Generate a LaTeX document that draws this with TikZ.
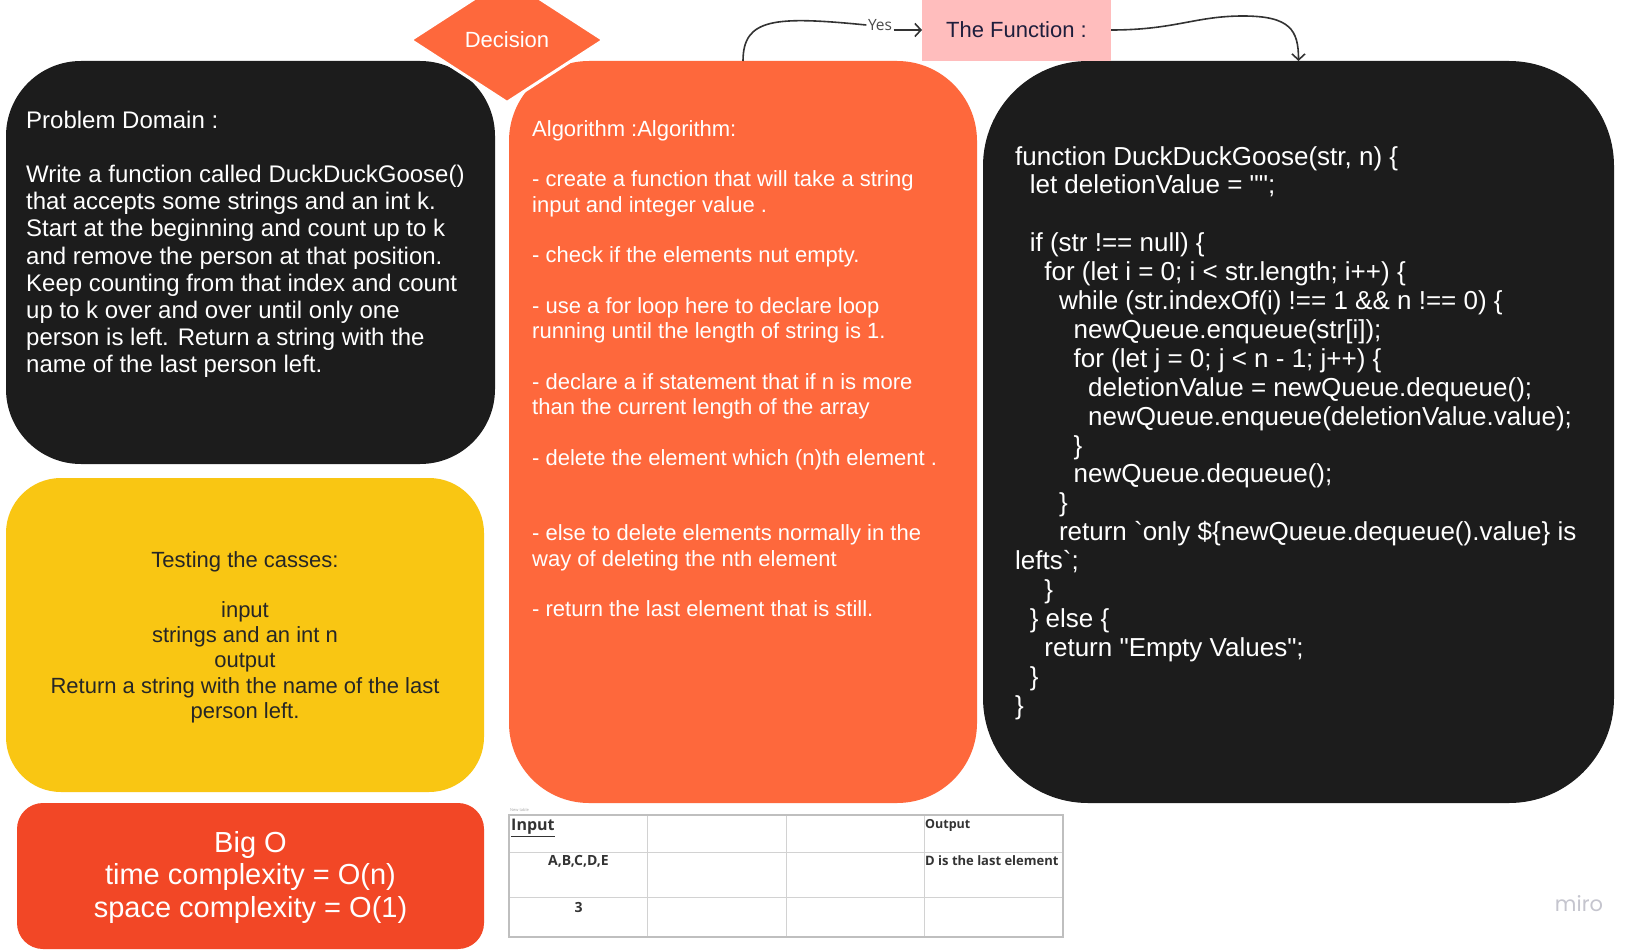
\documentclass[tikz,border=0pt]{standalone}
\usepackage{fontspec}
\setmainfont{Liberation Sans}
\newfontfamily\tablefont{Open Sans}
\newfontfamily\logofont{Poppins}
\usetikzlibrary{shapes.geometric,arrows.meta,positioning}

\definecolor{cardblack}{HTML}{1C1C1C}
\definecolor{cardorange}{HTML}{FE683C}
\definecolor{cardyellow}{HTML}{F9C613}
\definecolor{cardred}{HTML}{F24726}
\definecolor{cardpink}{HTML}{FFBDBD}
\definecolor{inkdark}{HTML}{1E1E3C}
\definecolor{linkgray}{HTML}{333333}
\definecolor{gridgray}{HTML}{D2D2D2}
\definecolor{logogray}{HTML}{C5C5CE}

\newlength\codeindent
\setlength\codeindent{14.6pt}
\newcommand\ind[1]{\hspace*{#1\codeindent}}

\tikzset{
  card/.style={rectangle, inner sep=0pt, outer sep=0pt},
  cardtext/.style={inner sep=0pt, anchor=north west, align=left, text=white},
  link/.style={draw=linkgray, line width=1.6pt},
  linkarrow/.style={link, -{Straight Barb[length=6pt,width=13pt]}},
  cell/.style={inner sep=0pt, text=black!80, font={\tablefont\bfseries\fontsize{12.5}{15}\selectfont}},
}

\begin{document}
\begin{tikzpicture}[x=1pt, y=-1pt]
  \useasboundingbox[fill=white] (0,0) rectangle (1643,950);
  % Problem domain card
  \node[card, fill=cardblack, rounded corners=75pt, minimum width=489pt, minimum height=403pt] (pd) at (250.5,262.5) {};
  \node[cardtext, font={\fontsize{24}{27.1}\selectfont}] (pdtext) at (26,111) {Problem Domain :\\[27.1pt]
Write a function called DuckDuckGoose()\\
that accepts some strings and an int k.\\
Start at the beginning and count up to k\\
and remove the person at that position.\\
Keep counting from that index and count\\
up to k over and over until only one\\
person is left. Return a string with the\\
name of the last person left.};
  % Testing card
  \node[card, fill=cardyellow, rounded corners=55pt, minimum width=478pt, minimum height=314pt] (test) at (245,635) {};
  \node[inner sep=0pt, anchor=north, align=center, text=black!85, font={\fontsize{22}{25.2}\selectfont}] (testtext) at (245,551) {Testing the casses:\\[25.2pt]
input\\
strings and an int n\\
output\\
Return a string with the name of the last\\
person left.};
  % Big O card
  \node[card, fill=cardred, rounded corners=26pt, minimum width=467pt, minimum height=146pt] (bigo) at (250.5,876) {};
  \node[inner sep=0pt, anchor=north, align=center, text=white, font={\fontsize{29}{32.5}\selectfont}] (bigotext) at (250.5,831) {Big O\\
time complexity = O(n)\\
space complexity = O(1)};
  % Algorithm card
  \node[card, fill=cardorange, rounded corners=80pt, minimum width=468pt, minimum height=742pt] (algo) at (743,432) {};
  \node[cardtext, font={\fontsize{22}{25.3}\selectfont}] (algotext) at (532,120) {Algorithm :Algorithm:\\[25.3pt]
- create a function that will take a string\\
input and integer value .\\[25.3pt]
- check if the elements nut empty.\\[25.3pt]
- use a for loop here to declare loop\\
running until the length of string is 1.\\[25.3pt]
- declare a if statement that if n is more\\
than the current length of the array\\[25.3pt]
- delete the element which (n)th element .\\[50.6pt]
- else to delete elements normally in the\\
way of deleting the nth element\\[25.3pt]
- return the last element that is still.};
  % Code card
  \node[card, fill=cardblack, rounded corners=105pt, minimum width=631pt, minimum height=742pt] (code) at (1298.5,432) {};
  \node[cardtext, font={\fontsize{26}{28.9}\selectfont}] (codetext) at (1015,146) {function DuckDuckGoose(str, n) \{\\
\ind{1}let deletionValue = \textquotedbl\textquotedbl;\\[28.9pt]
\ind{1}if (str !== null) \{\\
\ind{2}for (let i = 0; i < str.length; i++) \{\\
\ind{3}while (str.indexOf(i) !== 1 \&\& n !== 0) \{\\
\ind{4}newQueue.enqueue(str[i]);\\
\ind{4}for (let j = 0; j < n - 1; j++) \{\\
\ind{5}deletionValue = newQueue.dequeue();\\
\ind{5}newQueue.enqueue(deletionValue.value);\\
\ind{4}\}\\
\ind{4}newQueue.dequeue();\\
\ind{3}\}\\
\ind{3}return \textasciigrave only \$\{newQueue.dequeue().value\} is\\
lefts\textasciigrave;\\
\ind{2}\}\\
\ind{1}\} else \{\\
\ind{2}return \textquotedbl Empty Values\textquotedbl;\\
\ind{1}\}\\
\}};
  % Decision and function labels
  \node[diamond, fill=cardorange, draw=white, line width=3pt, minimum width=194pt, minimum height=126pt, inner sep=0pt, text=white, font={\fontsize{22}{26}\selectfont}] (decision) at (507,40) {Decision};
  \node[card, fill=cardpink, minimum width=189pt, minimum height=62pt, text=inkdark, font={\fontsize{22}{26}\selectfont}] (func) at (1016.5,30) {The Function :};
  \node[inner sep=1.5pt, text=black!70, font={\tablefont\fontsize{15.5}{18}\selectfont}] (yes) at (880,25) {Yes};
  % Connectors
  \draw[link] (algo.north) .. controls (743,18) and (775,16) .. (yes.west);
  \draw[linkarrow] (yes.east |- func.west) -- (func.west);
  \draw[linkarrow] (func.east) .. controls (1175,30) and (1195,16) .. (1243,16) .. controls (1290,16) and (1298.5,30) .. (code.north);
  % Table
  \node[anchor=west, inner sep=0pt, text=black!35, font={\tablefont\fontsize{4}{5}\selectfont}] (tablename) at (510,810) {New table};
  \foreach \row in {852,897} \draw[gridgray, line width=1pt] (509,\row) -- (1063,\row);
  \foreach \col in {647.5,786,924.5} \draw[gridgray, line width=1pt] (\col,815) -- (\col,937);
  \draw[black!25, line width=1.3pt] (509,815) rectangle (1063,937);
  \node[cell, anchor=west, font={\tablefont\bfseries\fontsize{16}{18}\selectfont}] (inhead) at (511,828) {\underline{Input}};
  \node[cell, anchor=west] (outhead) at (925,825) {Output};
  \node[cell, font={\tablefont\bfseries\fontsize{14}{16}\selectfont}] (invalues) at (578.5,861) {A,B,C,D,E};
  \node[cell, anchor=west, font={\tablefont\bfseries\fontsize{13}{15}\selectfont}] (outvalue) at (925,861) {D is the last element};
  \node[cell, font={\tablefont\bfseries\fontsize{14}{16}\selectfont}] (inn) at (578.5,907) {3};
  % Board logo
  \node[text=logogray, font={\logofont\fontsize{21}{24}\selectfont}] (logo) at (1579,904) {miro};
\end{tikzpicture}
\end{document}
